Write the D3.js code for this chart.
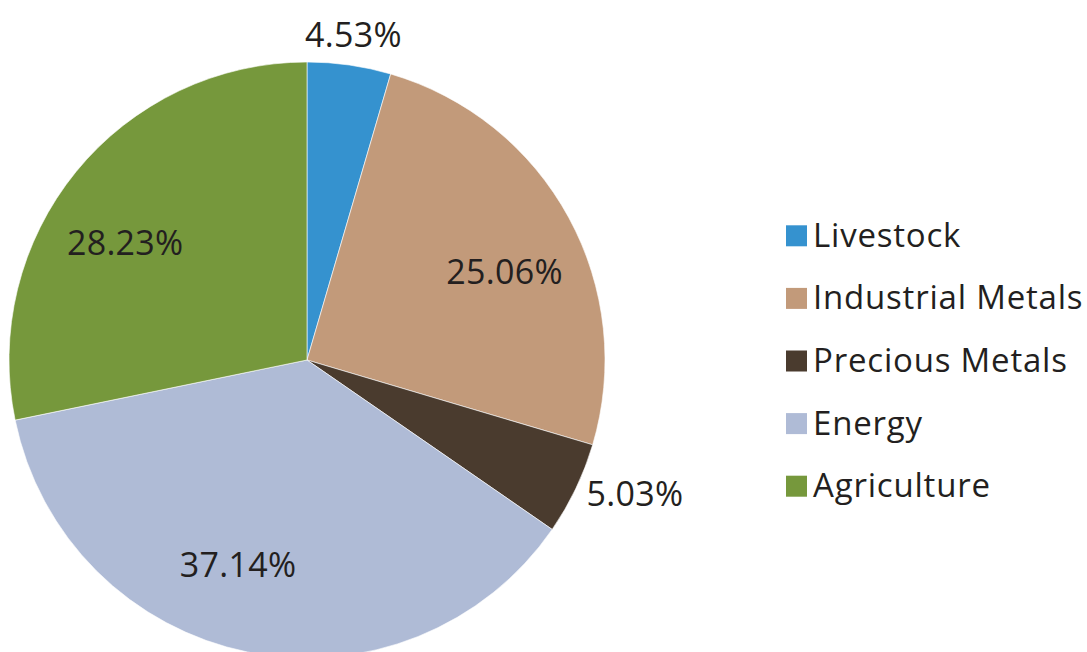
<!DOCTYPE html>
<html>
<head>
<meta charset="utf-8">
<script src="https://cdn.jsdelivr.net/npm/d3@7"></script>
<style>
    body { margin: 0; background: #fff; }
    svg { display: block; }
    text { font-family: "Open Sans", sans-serif; fill: #231f20; }
</style>
</head>
<body>
<svg id="chart" width="1087" height="652"></svg>
<script>
// DATA
var categories = ["Livestock", "Industrial Metals", "Precious Metals", "Energy", "Agriculture"];
var shares = [4.53, 25.06, 5.03, 37.14, 28.23];
var colors = ["#3592cf", "#c29a7a", "#4a3b2e", "#afbbd6", "#76983c"];

var svg = d3.select("#chart");

// pie geometry
var _cx = 307;
var _cy = 360;
var _radius = 298;
// label nudges (radians) so inside labels sit where the original placed them
var _labelTurn = { "Industrial Metals": 0.082, "Energy": 0.124, "Agriculture": -0.113 };

var pie = d3.pie().sort(null).value(function(d) { return d.value; });
var arc = d3.arc().innerRadius(0).outerRadius(_radius);

var data = categories.map(function(c, i) {
    return { name: c, value: shares[i], color: colors[i] };
});
var arcs = pie(data);

var isOutside = function(d) { return d.data.value < 6; };
var isRightSide = function(d) {
    var mid = (d.startAngle + d.endAngle) / 2;
    return mid > 0.5 && mid < Math.PI;
};

var labelPos = function(d) {
    var mid = (d.startAngle + d.endAngle) / 2;
    var r = _radius * 0.725;
    if (isOutside(d)) {
        r = isRightSide(d) ? _radius * 1.04 : _radius * 1.1;
    } else {
        mid += _labelTurn[d.data.name] || 0;
    }
    return [r * Math.sin(mid), -r * Math.cos(mid)];
};

var gPie = svg.append("g")
    .attr("transform", "translate(" + _cx + "," + _cy + ")");

gPie.selectAll("path.slice")
    .data(arcs)
    .enter()
    .append("path")
        .classed("slice", true)
        .attr("d", arc)
        .attr("fill", function(d) { return d.data.color; })
        .attr("stroke", "#ffffff")
        .attr("stroke-width", 0.6);

gPie.selectAll("text.value")
    .data(arcs)
    .enter()
    .append("text")
        .classed("value", true)
        .attr("transform", function(d) {
            var p = labelPos(d);
            return "translate(" + p[0] + "," + p[1] + ")";
        })
        .attr("dy", ".35em")
        .style("text-anchor", function(d) {
            return isOutside(d) && isRightSide(d) ? "start" : "middle";
        })
        .style("font-size", "34px")
        .style("letter-spacing", "0.3px")
        .text(function(d) { return d.data.value.toFixed(2) + "%"; });

// legend
var legendY = d3.scaleBand()
    .domain(categories)
    .range([204, 517]);

var gLegend = svg.append("g").classed("legend", true);

var items = gLegend.selectAll(".legend-item")
    .data(data)
    .enter()
    .append("g")
        .classed("legend-item", true)
        .attr("transform", function(d) {
            return "translate(786," + (legendY(d.name) + legendY.bandwidth() / 2) + ")";
        });

items.append("rect")
    .attr("x", 0)
    .attr("y", -10)
    .attr("width", 21)
    .attr("height", 21)
    .attr("fill", function(d) { return d.color; });

items.append("text")
    .attr("x", 27)
    .attr("dy", ".35em")
    .style("font-size", "33px")
    .style("letter-spacing", "0.8px")
    .text(function(d) { return d.name; });
</script>
</body>
</html>
